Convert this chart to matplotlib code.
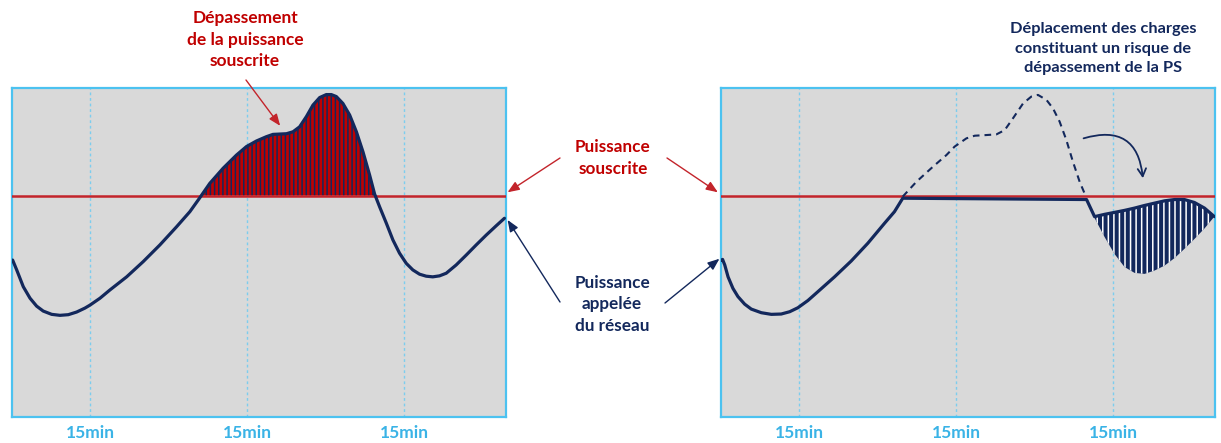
import matplotlib
matplotlib.use("Agg")
import matplotlib.pyplot as plt
import numpy as np

# ---------------- data (x in units of 15 min, y in % of panel height) ----------------
tick_pos = [0.5, 1.5, 2.5]
tick_labels = ["15min", "15min", "15min"]
subscribed_power = 67.3

left_x = [0.004, 0.030, 0.072, 0.115, 0.157, 0.199, 0.253, 0.306, 0.359, 0.412, 0.465, 0.497,
          0.561, 0.624, 0.731, 0.836, 0.943, 1.049, 1.134, 1.197, 1.261, 1.346, 1.431, 1.495,
          1.559, 1.622, 1.664, 1.707, 1.750, 1.792, 1.834, 1.877, 1.919, 1.962, 2.004, 2.036,
          2.068, 2.110, 2.153, 2.196, 2.238, 2.280, 2.312, 2.344, 2.387, 2.429, 2.471, 2.514,
          2.556, 2.599, 2.641, 2.683, 2.726, 2.769, 2.832, 2.896, 2.960, 3.024, 3.087, 3.140]
left_y = [47.7, 44.7, 39.6, 36.1, 33.7, 32.2, 31.2, 30.9, 31.1, 31.9, 33.1, 34.0,
          36.1, 38.6, 42.6, 47.2, 52.3, 57.8, 62.4, 66.6, 71.0, 75.6, 79.6, 82.2,
          83.9, 85.2, 85.9, 86.0, 86.1, 86.7, 88.2, 91.3, 94.8, 97.1, 98.0, 98.0,
          97.4, 95.3, 91.8, 86.7, 80.6, 73.6, 67.8, 63.9, 58.9, 53.8, 49.8, 46.7,
          44.7, 43.4, 42.8, 42.6, 42.9, 43.7, 46.2, 49.2, 52.3, 55.3, 58.1, 60.4]

right_x = [0.0, 0.010, 0.024, 0.045, 0.076, 0.108, 0.151, 0.193, 0.257, 0.321, 0.384, 0.438,
           0.490, 0.554, 0.618, 0.724, 0.830, 0.936, 1.043, 1.106, 1.159, 2.331, 2.382]
right_y = [47.6, 47.9, 46.2, 42.6, 39.1, 36.6, 34.3, 32.8, 31.7, 31.2, 31.3, 32.0,
           33.2, 35.4, 38.1, 42.6, 47.4, 52.8, 58.9, 62.4, 66.5, 66.1, 60.9]

unshifted_x = [1.159, 1.246, 1.352, 1.437, 1.490, 1.565, 1.618, 1.692, 1.756, 1.809, 1.862,
               1.926, 1.979, 2.021, 2.075, 2.117, 2.159, 2.202, 2.244, 2.287, 2.318]
unshifted_y = [67.0, 71.5, 76.1, 79.6, 82.2, 84.7, 85.5, 85.7, 85.9, 87.2, 90.8,
               95.3, 97.4, 97.9, 96.4, 93.8, 89.8, 84.2, 77.6, 71.5, 68.0]

shift_x = [2.382, 2.446, 2.510, 2.573, 2.637, 2.701, 2.764, 2.828, 2.892, 2.955, 3.019, 3.083, 3.146]
shift_upper = [60.9, 61.6, 62.2, 62.8, 63.5, 64.3, 65.0, 65.7, 66.1, 66.1, 65.2, 63.5, 60.9]
shift_lower = [60.5, 54.7, 49.5, 45.6, 43.8, 43.5, 44.5, 46.0, 48.3, 51.1, 54.1, 57.3, 60.9]

# ---------------- style ----------------
FONT = ["Lato", "DejaVu Sans"]
plt.rcParams["font.family"] = FONT
plt.rcParams["hatch.linewidth"] = 1.1
GRAY = "#d9d9d9"
BORDER = "#4cc2f0"
GRID = "#7ccdee"
RED = "#c3242b"
NAVY = "#13285c"
TICKC = "#3ab3e6"
XMAX, YMAX = 3.15, 100

fig = plt.figure(figsize=(12.21, 4.43), dpi=100)
W, H = 1221, 443


def make_ax(left_px):
    ax = fig.add_axes([left_px / W, 1 - 417 / H, 494 / W, 329 / H])
    ax.set_facecolor(GRAY)
    ax.set_xlim(0, XMAX)
    ax.set_ylim(0, YMAX)
    for s in ax.spines.values():
        s.set_color(BORDER)
        s.set_linewidth(1.6)
    ax.set_xticks(tick_pos)
    ax.set_xticklabels(tick_labels, fontsize=12.5, fontweight="bold", color=TICKC)
    ax.set_yticks([])
    ax.tick_params(axis="x", length=0, pad=6)
    for xp in tick_pos:
        ax.axvline(xp, color=GRID, lw=1.0, ls=(0, (2, 2)), zorder=1)
    ax.axhline(subscribed_power, color=RED, lw=1.8, zorder=3)
    return ax


axL = make_ax(12)
axR = make_ax(721)

# left panel
lx = np.array(left_x)
ly = np.array(left_y)
axL.fill_between(lx, ly, subscribed_power, where=ly > subscribed_power, interpolate=True,
                 facecolor="#c00000", edgecolor=NAVY, hatch="||||", linewidth=0, zorder=2)
axL.plot(lx, ly, color=NAVY, lw=2.3, zorder=4, solid_capstyle="round", solid_joinstyle="round")

# right panel
axR.plot(unshifted_x, unshifted_y, color=NAVY, lw=1.5, ls=(0, (3.2, 2.4)), zorder=4)
axR.fill_between(shift_x, shift_lower, shift_upper, facecolor=NAVY, edgecolor="white",
                 hatch="|||", linewidth=0, zorder=2)
solid_x = right_x + shift_x[1:]
solid_y = right_y + shift_upper[1:]
axR.plot(solid_x, solid_y, color=NAVY, lw=2.3, zorder=4, solid_capstyle="round", solid_joinstyle="round")

# curved arrow in right panel
axR.annotate("", xy=(2.69, 72.6), xycoords="data", xytext=(2.312, 84.7), textcoords="data",
             arrowprops=dict(arrowstyle="->,head_length=0.55,head_width=0.3", color=NAVY, lw=1.3,
                             connectionstyle="arc3,rad=-0.6", shrinkA=0, shrinkB=0))


def fpx(x, y):
    return (x, H - y)


# texts
fig.text(245 / W, 1 - 39.5 / H, "Dépassement\nde la puissance\nsouscrite", color="#c00000",
         fontsize=12.5, fontweight="bold", ha="center", va="center", linespacing=1.45)
fig.text(613 / W, 1 - 158 / H, "Puissance\nsouscrite", color="#c00000",
         fontsize=12.3, fontweight="bold", ha="center", va="center", linespacing=1.45)
fig.text(612 / W, 1 - 304.5 / H, "Puissance\nappelée\ndu réseau", color=NAVY,
         fontsize=12.3, fontweight="bold", ha="center", va="center", linespacing=1.45)
fig.text(1103 / W, 1 - 48.5 / H, "Déplacement des charges\nconstituant un risque de\ndépassement de la PS",
         color=NAVY, fontsize=11.8, fontweight="bold", ha="center", va="center", linespacing=1.5)

arrow_kw = dict(arrowstyle="-|>,head_length=0.7,head_width=0.28", lw=1.0, shrinkA=0, shrinkB=0)
axL.annotate("", xy=(1.71, 88.5), xycoords="data", xytext=fpx(246, 80), textcoords="figure pixels",
             arrowprops=dict(color=RED, **arrow_kw))
axL.annotate("", xy=(XMAX + 0.01, subscribed_power + 1), xycoords="data", xytext=fpx(560, 158),
             textcoords="figure pixels", arrowprops=dict(color=RED, **arrow_kw), annotation_clip=False)
axR.annotate("", xy=(-0.02, subscribed_power + 1), xycoords="data", xytext=fpx(667, 158),
             textcoords="figure pixels", arrowprops=dict(color=RED, **arrow_kw), annotation_clip=False)
axL.annotate("", xy=(left_x[-1] + 0.02, left_y[-1] - 0.5), xycoords="data", xytext=fpx(560, 302),
             textcoords="figure pixels", arrowprops=dict(color=NAVY, **arrow_kw), annotation_clip=False)
axR.annotate("", xy=(right_x[0] - 0.01, right_y[0] + 0.5), xycoords="data", xytext=fpx(665, 303),
             textcoords="figure pixels", arrowprops=dict(color=NAVY, **arrow_kw), annotation_clip=False)

fig.savefig("out.png", dpi=100, facecolor="white")
